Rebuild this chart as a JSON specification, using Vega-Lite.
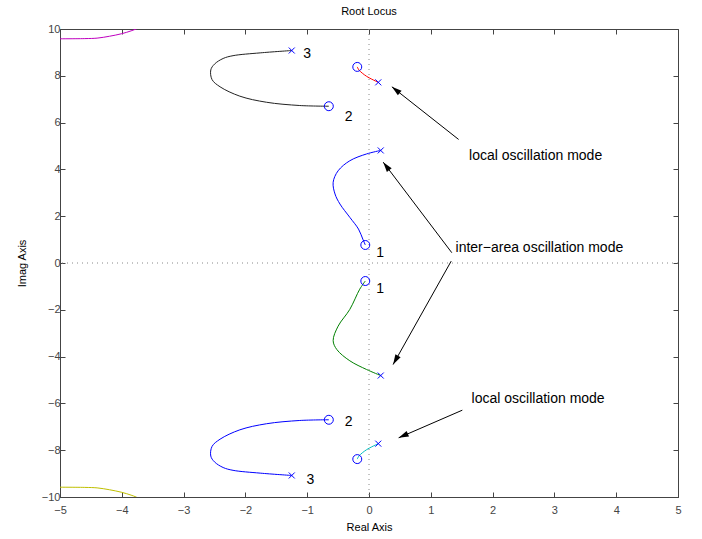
{
  "$schema": "https://vega.github.io/schema/vega-lite/v6.json",
  "width": 618,
  "height": 468,
  "autosize": {"type": "none"},
  "padding": {"left": 60, "top": 29, "right": 24, "bottom": 42},
  "background": "white",
  "config": {"font": "Liberation Sans", "view": {"stroke": "#444", "strokeWidth": 1}},
  "title": {"text": "Root Locus", "fontSize": 11, "fontWeight": "normal", "color": "#000", "offset": 6, "font": "Liberation Sans"},
  "datasets": {
    "origin": [{"re": 0, "im": 0}],
    "branches": [
      {"branch": "k", "i": 0, "re": -1.25, "im": 9.08},
      {"branch": "k", "i": 1, "re": -1.76, "im": 8.98},
      {"branch": "k", "i": 2, "re": -2.2, "im": 8.86},
      {"branch": "k", "i": 3, "re": -2.36, "im": 8.74},
      {"branch": "k", "i": 4, "re": -2.5, "im": 8.5},
      {"branch": "k", "i": 5, "re": -2.56, "im": 8.25},
      {"branch": "k", "i": 6, "re": -2.54, "im": 7.84},
      {"branch": "k", "i": 7, "re": -2.41, "im": 7.53},
      {"branch": "k", "i": 8, "re": -2.09, "im": 7.13},
      {"branch": "k", "i": 9, "re": -1.66, "im": 6.87},
      {"branch": "k", "i": 10, "re": -1.12, "im": 6.73},
      {"branch": "k", "i": 11, "re": -0.65, "im": 6.7},
      {"branch": "b2", "i": 0, "re": -1.25, "im": -9.08},
      {"branch": "b2", "i": 1, "re": -1.76, "im": -8.98},
      {"branch": "b2", "i": 2, "re": -2.2, "im": -8.86},
      {"branch": "b2", "i": 3, "re": -2.36, "im": -8.74},
      {"branch": "b2", "i": 4, "re": -2.5, "im": -8.5},
      {"branch": "b2", "i": 5, "re": -2.56, "im": -8.25},
      {"branch": "b2", "i": 6, "re": -2.54, "im": -7.84},
      {"branch": "b2", "i": 7, "re": -2.41, "im": -7.53},
      {"branch": "b2", "i": 8, "re": -2.09, "im": -7.13},
      {"branch": "b2", "i": 9, "re": -1.66, "im": -6.87},
      {"branch": "b2", "i": 10, "re": -1.12, "im": -6.73},
      {"branch": "b2", "i": 11, "re": -0.65, "im": -6.7},
      {"branch": "b", "i": 0, "re": 0.19, "im": 4.81},
      {"branch": "b", "i": 1, "re": -0.04, "im": 4.66},
      {"branch": "b", "i": 2, "re": -0.31, "im": 4.37},
      {"branch": "b", "i": 3, "re": -0.5, "im": 3.94},
      {"branch": "b", "i": 4, "re": -0.58, "im": 3.45},
      {"branch": "b", "i": 5, "re": -0.55, "im": 2.95},
      {"branch": "b", "i": 6, "re": -0.47, "im": 2.52},
      {"branch": "b", "i": 7, "re": -0.31, "im": 1.95},
      {"branch": "b", "i": 8, "re": -0.17, "im": 1.45},
      {"branch": "b", "i": 9, "re": -0.1, "im": 1.02},
      {"branch": "b", "i": 10, "re": -0.06, "im": 0.77},
      {"branch": "g", "i": 0, "re": 0.19, "im": -4.81},
      {"branch": "g", "i": 1, "re": -0.04, "im": -4.55},
      {"branch": "g", "i": 2, "re": -0.31, "im": -4.18},
      {"branch": "g", "i": 3, "re": -0.52, "im": -3.7},
      {"branch": "g", "i": 4, "re": -0.58, "im": -3.32},
      {"branch": "g", "i": 5, "re": -0.5, "im": -2.7},
      {"branch": "g", "i": 6, "re": -0.31, "im": -1.98},
      {"branch": "g", "i": 7, "re": -0.15, "im": -1.12},
      {"branch": "g", "i": 8, "re": -0.06, "im": -0.77},
      {"branch": "r", "i": 0, "re": -0.19, "im": 8.38},
      {"branch": "r", "i": 1, "re": -0.16, "im": 8.24},
      {"branch": "r", "i": 2, "re": -0.04, "im": 7.98},
      {"branch": "r", "i": 3, "re": 0.15, "im": 7.72},
      {"branch": "c", "i": 0, "re": -0.19, "im": -8.38},
      {"branch": "c", "i": 1, "re": -0.16, "im": -8.24},
      {"branch": "c", "i": 2, "re": -0.04, "im": -7.98},
      {"branch": "c", "i": 3, "re": 0.15, "im": -7.72},
      {"branch": "m", "i": 0, "re": -5.2, "im": 9.58},
      {"branch": "m", "i": 1, "re": -4.6, "im": 9.59},
      {"branch": "m", "i": 2, "re": -4.4, "im": 9.61},
      {"branch": "m", "i": 3, "re": -4.2, "im": 9.69},
      {"branch": "m", "i": 4, "re": -4.0, "im": 9.8},
      {"branch": "m", "i": 5, "re": -3.85, "im": 9.92},
      {"branch": "m", "i": 6, "re": -3.77, "im": 10.0},
      {"branch": "m", "i": 7, "re": -3.7, "im": 10.1},
      {"branch": "y", "i": 0, "re": -5.2, "im": -9.58},
      {"branch": "y", "i": 1, "re": -4.6, "im": -9.59},
      {"branch": "y", "i": 2, "re": -4.4, "im": -9.61},
      {"branch": "y", "i": 3, "re": -4.2, "im": -9.69},
      {"branch": "y", "i": 4, "re": -4.0, "im": -9.8},
      {"branch": "y", "i": 5, "re": -3.85, "im": -9.92},
      {"branch": "y", "i": 6, "re": -3.77, "im": -10.0},
      {"branch": "y", "i": 7, "re": -3.7, "im": -10.1}
    ],
    "roots": [
      {"kind": "pole", "re": -1.25, "im": 9.08},
      {"kind": "pole", "re": -1.25, "im": -9.08},
      {"kind": "pole", "re": 0.15, "im": 7.72},
      {"kind": "pole", "re": 0.15, "im": -7.72},
      {"kind": "pole", "re": 0.19, "im": 4.81},
      {"kind": "pole", "re": 0.19, "im": -4.81},
      {"kind": "zero", "re": -0.65, "im": 6.7},
      {"kind": "zero", "re": -0.65, "im": -6.7},
      {"kind": "zero", "re": -0.19, "im": 8.38},
      {"kind": "zero", "re": -0.19, "im": -8.38},
      {"kind": "zero", "re": -0.06, "im": 0.77},
      {"kind": "zero", "re": -0.06, "im": -0.77}
    ],
    "numbers": [
      {"label": "3", "re": -1.0, "im": 8.94},
      {"label": "2", "re": -0.33, "im": 6.25},
      {"label": "1", "re": 0.18, "im": 0.44},
      {"label": "1", "re": 0.18, "im": -1.1},
      {"label": "2", "re": -0.33, "im": -6.8},
      {"label": "3", "re": -0.95, "im": -9.29}
    ],
    "notes": [
      {"text": "local oscillation mode", "re": 1.62, "im": 4.59},
      {"text": "inter−area oscillation mode", "re": 1.4, "im": 0.66},
      {"text": "local oscillation mode", "re": 1.66, "im": -5.8}
    ],
    "arrows": [
      {"id": "a1", "re0": 1.45, "im0": 5.28, "re1": 0.37, "im1": 7.53},
      {"id": "a2", "re0": 1.34, "im0": 0.44, "re1": 0.23, "im1": 4.31},
      {"id": "a3", "re0": 1.33, "im0": 0.08, "re1": 0.39, "im1": -4.34},
      {"id": "a4", "re0": 1.51, "im0": -6.29, "re1": 0.48, "im1": -7.47}
    ]
  },
  "layer": [
    {
      "data": {"name": "origin"},
      "mark": {"type": "rule", "stroke": "#888", "strokeWidth": 1, "strokeDash": [1, 4]},
      "encoding": {"x": {"field": "re", "type": "quantitative", "axis": null}}
    },
    {
      "data": {"name": "origin"},
      "mark": {"type": "rule", "stroke": "#888", "strokeWidth": 1, "strokeDash": [1, 4]},
      "encoding": {"y": {"field": "im", "type": "quantitative", "axis": null}}
    },
    {
      "data": {"name": "branches"},
      "mark": {"type": "line", "strokeWidth": 1, "clip": true, "interpolate": "catmull-rom"},
      "encoding": {
        "x": {"field": "re", "type": "quantitative",
          "scale": {"domain": [-5, 5], "nice": false, "zero": false},
          "axis": {"orient": "bottom", "values": [-5, -4, -3, -2, -1, 0, 1, 2, 3, 4, 5], "grid": false,
            "tickSize": -5, "tickColor": "#444", "domainColor": "#444", "labelColor": "#444",
            "labelFontSize": 11, "labelPadding": 12, "title": "Real Axis", "titleFontSize": 11,
            "titleFontWeight": "normal", "titleColor": "#000", "titlePadding": 6, "labelFlush": false}},
        "y": {"field": "im", "type": "quantitative",
          "scale": {"domain": [-10, 10], "nice": false, "zero": false},
          "axis": {"orient": "left", "values": [-10, -8, -6, -4, -2, 0, 2, 4, 6, 8, 10], "grid": false,
            "tickSize": -5, "tickColor": "#444", "domainColor": "#444", "labelColor": "#444",
            "labelFontSize": 11, "labelPadding": 5, "title": "Imag Axis", "titleFontSize": 11,
            "titleFontWeight": "normal", "titleColor": "#000", "titlePadding": 14, "labelFlush": false}},
        "color": {"field": "branch", "type": "nominal", "legend": null,
          "scale": {"domain": ["k", "b2", "b", "g", "r", "c", "m", "y"],
            "range": ["#222222", "#0000ff", "#0000ff", "#008000", "#ff0000", "#00bfbf", "#bf00bf", "#bfbf00"]}},
        "detail": {"field": "branch"},
        "order": {"field": "i", "type": "quantitative"}
      }
    },
    {
      "data": {"name": "roots"},
      "transform": [{"filter": "datum.kind === 'pole'"}],
      "mark": {"type": "point", "shape": "M-1,-1L1,1M-1,1L1,-1", "filled": false, "stroke": "#0000ff", "strokeWidth": 1, "size": 36, "opacity": 1},
      "encoding": {
        "x": {"field": "re", "type": "quantitative", "axis": {"orient": "top", "values": [-5, -4, -3, -2, -1, 0, 1, 2, 3, 4, 5], "grid": false, "tickSize": -5, "tickColor": "#444", "domain": false, "labels": false, "title": null}},
        "y": {"field": "im", "type": "quantitative", "axis": {"orient": "right", "values": [-10, -8, -6, -4, -2, 0, 2, 4, 6, 8, 10], "grid": false, "tickSize": -5, "tickColor": "#444", "domain": false, "labels": false, "title": null}}
      }
    },
    {
      "data": {"name": "roots"},
      "transform": [{"filter": "datum.kind === 'zero'"}],
      "mark": {"type": "point", "shape": "circle", "filled": false, "stroke": "#0000ff", "strokeWidth": 1, "size": 80, "opacity": 1},
      "encoding": {
        "x": {"field": "re", "type": "quantitative", "axis": null},
        "y": {"field": "im", "type": "quantitative", "axis": null}
      }
    },
    {
      "data": {"name": "numbers"},
      "mark": {"type": "text", "fontSize": 14, "align": "center", "baseline": "middle", "color": "#000"},
      "encoding": {
        "x": {"field": "re", "type": "quantitative", "axis": null},
        "y": {"field": "im", "type": "quantitative", "axis": null},
        "text": {"field": "label"}
      }
    },
    {
      "data": {"name": "notes"},
      "mark": {"type": "text", "fontSize": 14, "align": "left", "baseline": "middle", "color": "#000"},
      "encoding": {
        "x": {"field": "re", "type": "quantitative", "axis": null},
        "y": {"field": "im", "type": "quantitative", "axis": null},
        "text": {"field": "text"}
      }
    },
    {
      "data": {"name": "arrows"},
      "mark": {"type": "rule", "color": "#000", "strokeWidth": 1},
      "encoding": {
        "x": {"field": "re0", "type": "quantitative", "axis": null},
        "y": {"field": "im0", "type": "quantitative", "axis": null},
        "x2": {"field": "re1"},
        "y2": {"field": "im1"}
      }
    },
    {
      "data": {"name": "arrows"},
      "mark": {"type": "point", "shape": "M0,0L-0.6,2L0.6,2Z", "filled": true, "color": "#000", "size": 100, "opacity": 1},
      "encoding": {
        "x": {"field": "re1", "type": "quantitative", "axis": null},
        "y": {"field": "im1", "type": "quantitative", "axis": null},
        "angle": {"field": "id", "type": "ordinal", "legend": null,
          "scale": {"type": "ordinal", "domain": ["a1", "a2", "a3", "a4"], "range": [308.4, 322.7, 209.4, 246.5]}}
      }
    }
  ],
  "resolve": {"axis": {"x": "independent", "y": "independent"}}
}
